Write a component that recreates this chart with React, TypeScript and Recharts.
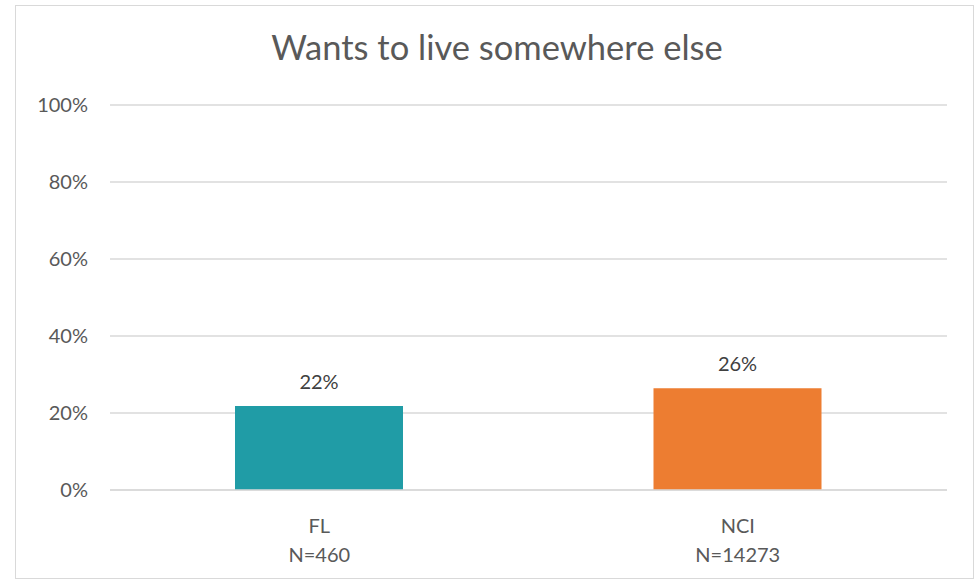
import { Bar, BarChart, CartesianGrid, Cell, LabelList, XAxis, YAxis } from 'recharts';

const categories = ['FL', 'NCI'];
const sampleSizes = ['N=460', 'N=14273'];
const shares = [21.8, 26.4];
const yTicks = [0, 20, 40, 60, 80, 100];

const data = categories.map((name, i) => ({ name, n: sampleSizes[i], value: shares[i] }));

const FONT = 'Lato, "Open Sans", sans-serif';
const COLORS = ['#209ca6', '#ed7d31'];

function CategoryTick({ x, y, payload, index }: any) {
  return (
    <g transform={`translate(${x},${y})`}>
      <text textAnchor="middle" fill="#595959" fontSize={20} fontFamily={FONT}>
        <tspan x={0} dy={35}>{payload.value}</tspan>
        <tspan x={0} dy={29}>{sampleSizes[index]}</tspan>
      </text>
    </g>
  );
}

export default function App() {
  return (
    <div style={{ position: 'absolute', left: 0, top: 0, width: 980, height: 581, background: '#fff' }}>
      <div
        style={{
          position: 'absolute',
          left: 15,
          top: 5,
          width: 959,
          height: 574,
          border: '1.5px solid #d9d9d9',
          boxSizing: 'border-box',
        }}
      />
      <div
        style={{
          position: 'absolute',
          left: 0,
          width: 994,
          top: 27,
          textAlign: 'center',
          fontFamily: FONT,
          fontSize: 34.5,
          color: '#595959',
          lineHeight: '40px',
        }}
      >
        Wants to live somewhere else
      </div>
      <BarChart
        width={980}
        height={581}
        data={data}
        margin={{ top: 105, right: 33, bottom: 0, left: 0 }}
        style={{ position: 'absolute', left: 0, top: 0 }}
      >
        <CartesianGrid vertical={false} stroke="#d9d9d9" strokeWidth={1.5} />
        <YAxis
          width={110}
          domain={[0, 100]}
          ticks={yTicks}
          tickFormatter={(v) => `${v}%`}
          axisLine={false}
          tickLine={false}
          tickSize={0}
          tickMargin={22}
          tick={{ fill: '#595959', fontSize: 20, fontFamily: FONT }}
        />
        <XAxis
          dataKey="name"
          height={91}
          axisLine={{ stroke: '#d9d9d9', strokeWidth: 1.5 }}
          tickLine={false}
          tick={<CategoryTick />}
          interval={0}
        />
        <Bar dataKey="value" barSize={168} isAnimationActive={false}>
          {data.map((d, i) => (
            <Cell key={d.name} fill={COLORS[i]} />
          ))}
          <LabelList
            dataKey="value"
            position="top"
            offset={17}
            formatter={(v: any) => `${Math.round(v)}%`}
            fill="#404040"
            fontSize={20}
            fontFamily={FONT}
          />
        </Bar>
      </BarChart>
    </div>
  );
}
